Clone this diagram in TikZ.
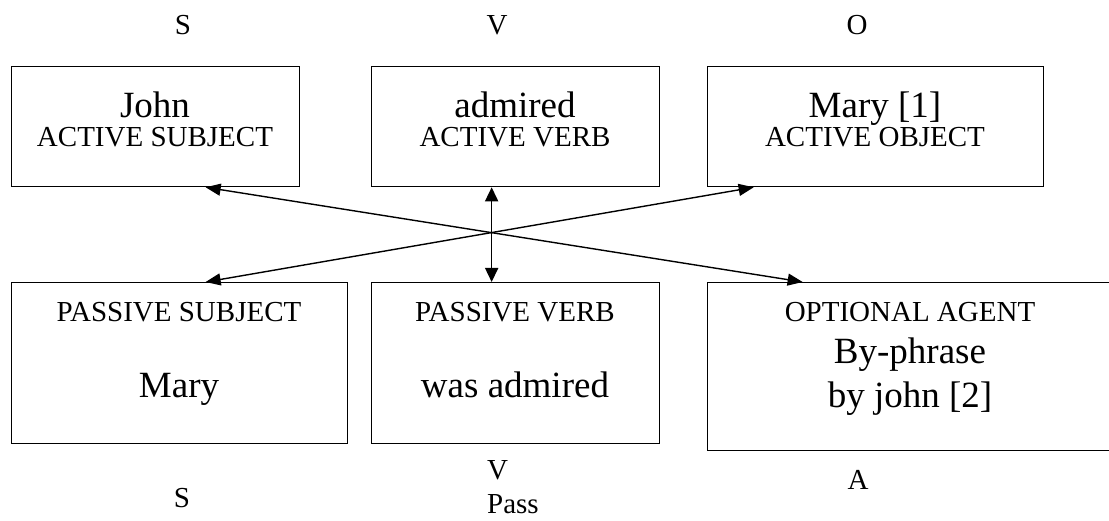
\documentclass[tikz,border=0pt]{standalone}
\usepackage{fontspec}
\setmainfont{Liberation Serif}
\usetikzlibrary{arrows.meta}
\begin{document}
\begin{tikzpicture}[x=1pt,y=-1pt,
  box/.style={draw, line width=1.3pt, inner sep=0pt, anchor=north west},
  small/.style={font=\fontsize{29}{33}\selectfont, inner sep=0pt, anchor=base},
  big/.style={font=\fontsize{37}{42}\selectfont, inner sep=0pt, anchor=base},
  arr/.style={line width=1.4pt, {Triangle[length=15pt,width=12pt]}-{Triangle[length=15pt,width=12pt]}},
  varr/.style={line width=1.6pt, {Triangle[length=14pt,width=13pt]}-{Triangle[length=14pt,width=13pt]}}]
\useasboundingbox (0,0) rectangle (1109,521);
\clip (0,0) rectangle (1109,521);
% boxes
\node[box, minimum width=288pt, minimum height=120pt] (b1) at (11,66) {};
\node[box, minimum width=288pt, minimum height=120pt] (b2) at (371,66) {};
\node[box, minimum width=336pt, minimum height=120pt] (b3) at (707,66) {};
\node[box, minimum width=336pt, minimum height=161pt] (b4) at (11,282) {};
\node[box, minimum width=288pt, minimum height=161pt] (b5) at (371,282) {};
\node[box, minimum width=406pt, minimum height=168pt] (b6) at (707,282) {};
% top labels
\node[small] (ls) at (183,35) {S};
\node[small] (lv) at (497,35) {V};
\node[small] (lo) at (857,35) {O};
% box texts
\node[big] (t1a) at (155,118) {John};
\node[small] (t1b) at (155,147) {ACTIVE SUBJECT};
\node[big] (t2a) at (515,118) {admired};
\node[small] (t2b) at (515,147) {ACTIVE VERB};
\node[big] (t3a) at (875,118) {Mary [1]};
\node[small] (t3b) at (875,147) {ACTIVE OBJECT};
\node[small] (t4a) at (179,322) {PASSIVE SUBJECT};
\node[big] (t4b) at (179,398) {Mary};
\node[small] (t5a) at (515,322) {PASSIVE VERB};
\node[big] (t5b) at (515,398) {was admired};
\node[small] (t6a) at (910,322) {OPTIONAL AGENT};
\node[big] (t6b) at (910,363) {By-phrase};
\node[big] (t6c) at (910,407) {by john [2]};
% bottom labels
\node[small] (bs) at (182,507) {S};
\node[small, anchor=base west] (bv) at (487,479) {V};
\node[small, anchor=base west] (bp) at (487,513) {Pass};
\node[small] (ba) at (858,489) {A};
% connectors
\draw[arr] ([xshift=50pt]b1.south) -- ([xshift=-108pt]b6.north);
\draw[arr] ([xshift=-122pt]b3.south) -- ([xshift=26pt]b4.north);
\draw[varr] ([xshift=-24pt]b2.south) -- ([xshift=-24pt]b5.north);
\end{tikzpicture}
\end{document}
